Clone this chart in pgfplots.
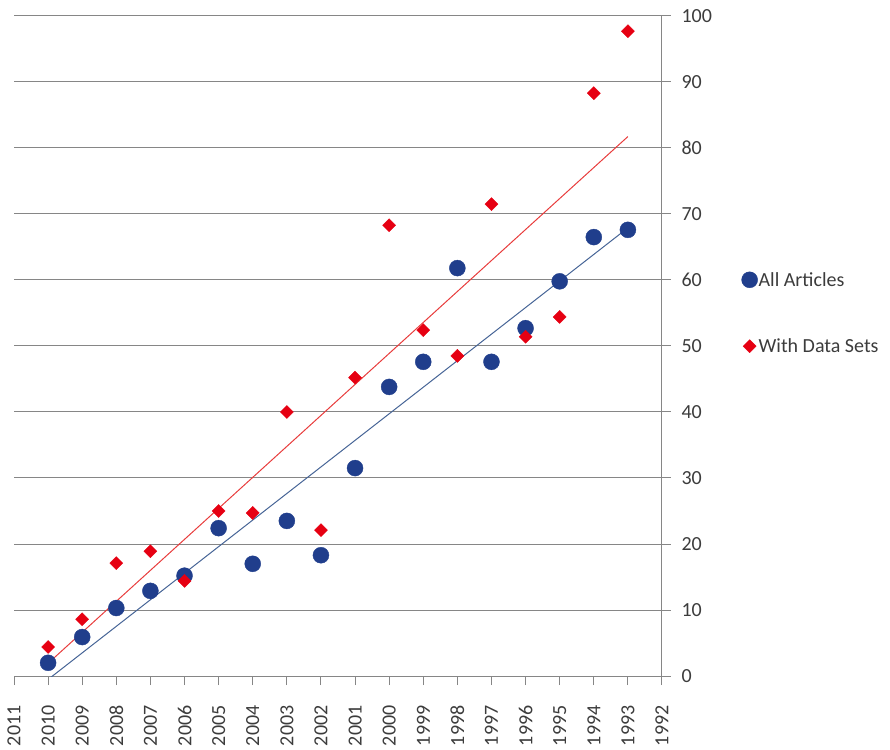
\documentclass[border=0pt]{standalone}
\usepackage{fontspec}
\setmainfont{Carlito}
\usepackage{pgfplots}
\usepackage{pgfplotstable}
\pgfplotsset{compat=1.18}

\definecolor{gridgray}{RGB}{134,134,134}
\definecolor{labelgray}{RGB}{60,60,60}
\definecolor{ptblue}{RGB}{32,62,140}
\definecolor{ptred}{RGB}{230,0,18}
\definecolor{trendblue}{RGB}{70,100,150}
\definecolor{trendred}{RGB}{232,60,60}

% share of articles per year (percent)
\pgfplotstableread{
year all  sets
2010 2.0  4.4
2009 5.9  8.6
2008 10.3 17.1
2007 12.9 18.9
2006 15.2 14.4
2005 22.4 25.0
2004 17.0 24.7
2003 23.5 40.0
2002 18.3 22.1
2001 31.5 45.2
2000 43.8 68.3
1999 47.6 52.4
1998 61.8 48.5
1997 47.6 71.5
1996 52.7 51.4
1995 59.8 54.4
1994 66.5 88.3
1993 67.6 97.7
}\tbl
% centred year, keeps the regression well conditioned
\pgfplotstablecreatecol[expr={\thisrow{year}-2000}]{t}{\tbl}

\begin{document}
\begin{tikzpicture}
\begin{axis}[
    name=ax,
    scale only axis,
    width=648bp, height=660bp,
    x dir=reverse,
    xmin=1992, xmax=2011,
    xtick={1992,...,2011},
    ymin=0, ymax=100,
    ytick={0,10,...,100},
    axis x line*=bottom,
    axis y line*=right,
    ymajorgrids,
    grid style={draw=gridgray, line width=1bp},
    axis line style={draw=gridgray, line width=1bp},
    tick align=outside,
    major tick length=9bp,
    tick style={draw=gridgray, line width=1bp},
    /pgf/number format/assume math mode=true,
    /pgf/number format/1000 sep={},
    tick label style={font=\fontsize{20bp}{24bp}\selectfont, text=labelgray},
    x tick label style={rotate=90, anchor=east},
    xticklabel shift=17bp,
    yticklabel shift=7bp,
    clip=true,
    legend style={at={(1.118,0.55)}, anchor=west, draw=none, fill=none,
        font=\fontsize{20bp}{24bp}\selectfont, text=labelgray,
        row sep=47bp, nodes={inner xsep=1bp}, legend cell align=left},
    legend image code/.code={\draw[mark repeat=2,mark phase=2,#1]
        plot coordinates {(0bp,0bp)(8bp,0bp)(10bp,0bp)};},
]
\addplot[forget plot, trendblue, line width=1bp, no marks]
    table[x=year, y={create col/linear regression={x=t,y=all}}] {\tbl};
\addplot[forget plot, trendred, line width=1bp, no marks]
    table[x=year, y={create col/linear regression={x=t,y=sets}}] {\tbl};
\addplot[only marks, mark=*, mark size=8bp, draw=ptblue, fill=ptblue]
    table[x=year, y=all] {\tbl};
\addlegendentry{All Articles}
\addplot[only marks, mark=square*, mark size=4.6bp, mark options={rotate=45},
    draw=ptred, fill=ptred]
    table[x=year, y=sets] {\tbl};
\addlegendentry{With Data Sets}
\end{axis}
\pgfresetboundingbox
\path ([xshift=-14bp,yshift=-74bp]ax.south west)
    rectangle ([xshift=228bp,yshift=16bp]ax.north east);
\end{tikzpicture}
\end{document}
